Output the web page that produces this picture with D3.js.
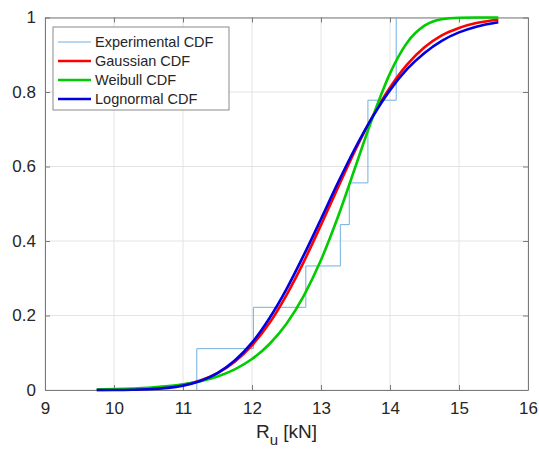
<!DOCTYPE html>
<html>
<head>
<meta charset="utf-8">
<script src="https://cdn.jsdelivr.net/npm/d3@7"></script>
<style>
  body { margin: 0; background: #fff; }
  text { font-family: "Liberation Sans", Arial, Helvetica, sans-serif; fill: #262626; }
</style>
</head>
<body>
<div id="chart"></div>
<script>
// Experimental CDF (stairs)
const expX = [11.2, 11.2, 12.02, 12.78, 13.28, 13.41, 13.68, 14.09];
const expF = [0, 0.111, 0.222, 0.333, 0.444, 0.556, 0.778, 1.0];

// fitted curves
const fitX = [9.75, 10, 10.5, 11, 11.25, 11.5, 11.75, 12, 12.25, 12.5, 12.75, 13, 13.25, 13.5, 13.75, 14, 14.25, 14.5, 14.75, 15, 15.25, 15.57];
const gaussF = [0.0002, 0.0006, 0.0032, 0.0137, 0.0257, 0.0454, 0.0759, 0.120, 0.179, 0.255, 0.344, 0.443, 0.545, 0.645, 0.735, 0.812, 0.874, 0.920, 0.952, 0.972, 0.985, 0.994];
const weibF = [0.0014, 0.0023, 0.0060, 0.0151, 0.0236, 0.0363, 0.0554, 0.0831, 0.1229, 0.178, 0.253, 0.349, 0.467, 0.600, 0.733, 0.850, 0.933, 0.978, 0.9954, 0.9995, 1.0, 1.0];
const lognF = [0.0001, 0.0002, 0.0021, 0.0117, 0.0242, 0.0455, 0.0791, 0.127, 0.192, 0.271, 0.362, 0.459, 0.558, 0.651, 0.734, 0.805, 0.862, 0.905, 0.9375, 0.960, 0.9754, 0.9873];

const xTicks = [9, 10, 11, 12, 13, 14, 15, 16];
const yTicks = [0, 0.2, 0.4, 0.6, 0.8, 1];
const legendNames = ["Experimental CDF", "Gaussian CDF", "Weibull CDF", "Lognormal CDF"];
const colors = ["#6fb0e0", "#ff0000", "#00cc00", "#0000e0"];

const width = 539;
const height = 451;
const margin = { top: 17.5, right: 11, bottom: 61, left: 45 };

const svg = d3
  .select("#chart")
  .append("svg")
  .attr("width", width)
  .attr("height", height);

svg.append("rect").attr("width", width).attr("height", height).attr("fill", "#fff");

const x = d3.scaleLinear().domain([9, 16]).range([margin.left, width - margin.right]);
const y = d3.scaleLinear().domain([0, 1]).range([height - margin.bottom, margin.top]);

// grid
svg
  .append("g")
  .selectAll("line")
  .data(xTicks)
  .enter()
  .append("line")
  .attr("x1", (d) => x(d))
  .attr("x2", (d) => x(d))
  .attr("y1", y(0))
  .attr("y2", y(1))
  .attr("stroke", "#e3e3e3")
  .attr("stroke-width", 1);

svg
  .append("g")
  .selectAll("line")
  .data(yTicks)
  .enter()
  .append("line")
  .attr("x1", x(9))
  .attr("x2", x(16))
  .attr("y1", (d) => y(d))
  .attr("y2", (d) => y(d))
  .attr("stroke", "#e3e3e3")
  .attr("stroke-width", 1);

// axes (inward ticks, MATLAB style)
const tickLen = 5;
const xAxis = d3.axisBottom(x).tickValues(xTicks).tickSizeInner(-tickLen).tickSizeOuter(0).tickPadding(12)
  .tickFormat((d) => String(d));
const yAxis = d3.axisLeft(y).tickValues(yTicks).tickSizeInner(-tickLen).tickSizeOuter(0).tickPadding(9)
  .tickFormat((d) => String(d));

const gx = svg.append("g").attr("transform", `translate(0,${y(0)})`).call(xAxis);
const gy = svg.append("g").attr("transform", `translate(${x(9)},0)`).call(yAxis);
const gx2 = svg.append("g").attr("transform", `translate(0,${y(1)})`)
  .call(d3.axisTop(x).tickValues(xTicks).tickSizeInner(-tickLen).tickSizeOuter(0).tickFormat(""));
const gy2 = svg.append("g").attr("transform", `translate(${x(16)},0)`)
  .call(d3.axisRight(y).tickValues(yTicks).tickSizeInner(-tickLen).tickSizeOuter(0).tickFormat(""));

[gx, gy, gx2, gy2].forEach((g) => {
  g.select(".domain").attr("stroke", "#7a7a7a");
  g.selectAll(".tick line").attr("stroke", "#7a7a7a");
  g.selectAll("text").style("font-size", "17px").attr("fill", "#333");
});

// experimental stairs
const expPts = expX.map((v, i) => [v, expF[i]]);
svg
  .append("path")
  .datum(expPts)
  .attr("fill", "none")
  .attr("stroke", colors[0])
  .attr("stroke-width", 1)
  .attr("d", d3.line().x((d) => x(d[0])).y((d) => y(d[1])).curve(d3.curveStepAfter));

// fitted curves
const fitLine = d3.line().x((d) => x(d[0])).y((d) => y(d[1])).curve(d3.curveMonotoneX);
[gaussF, weibF, lognF].forEach((vals, k) => {
  svg
    .append("path")
    .datum(fitX.map((v, i) => [v, vals[i]]))
    .attr("fill", "none")
    .attr("stroke", colors[k + 1])
    .attr("stroke-width", 2.6)
    .attr("d", fitLine);
});

// x label
const xl = svg
  .append("text")
  .attr("x", (x(9) + x(16)) / 2)
  .attr("y", 438)
  .attr("text-anchor", "middle")
  .style("font-size", "19px")
  .attr("fill", "#333");
xl.append("tspan").text("R");
xl.append("tspan").attr("dy", 7).style("font-size", "15px").text("u");
xl.append("tspan").attr("dy", -7).text(" [kN]");

// legend
const legend = svg.append("g").attr("transform", "translate(53,27)");
legend
  .append("rect")
  .attr("width", 176)
  .attr("height", 83)
  .attr("fill", "#fff")
  .attr("stroke", "#8a8a8a")
  .attr("stroke-width", 1);

const items = legend
  .selectAll(".legend-item")
  .data(legendNames)
  .enter()
  .append("g")
  .attr("class", "legend-item")
  .attr("transform", (d, i) => `translate(0, ${15 + i * 19})`);

items
  .append("line")
  .attr("x1", 5)
  .attr("x2", 38)
  .attr("stroke", (d, i) => colors[i])
  .attr("stroke-width", (d, i) => (i === 0 ? 1 : 2.6));

items
  .append("text")
  .text((d) => d)
  .attr("x", 42)
  .attr("y", 5)
  .style("font-size", "14.5px")
  .attr("fill", "#333");
</script>
</body>
</html>
